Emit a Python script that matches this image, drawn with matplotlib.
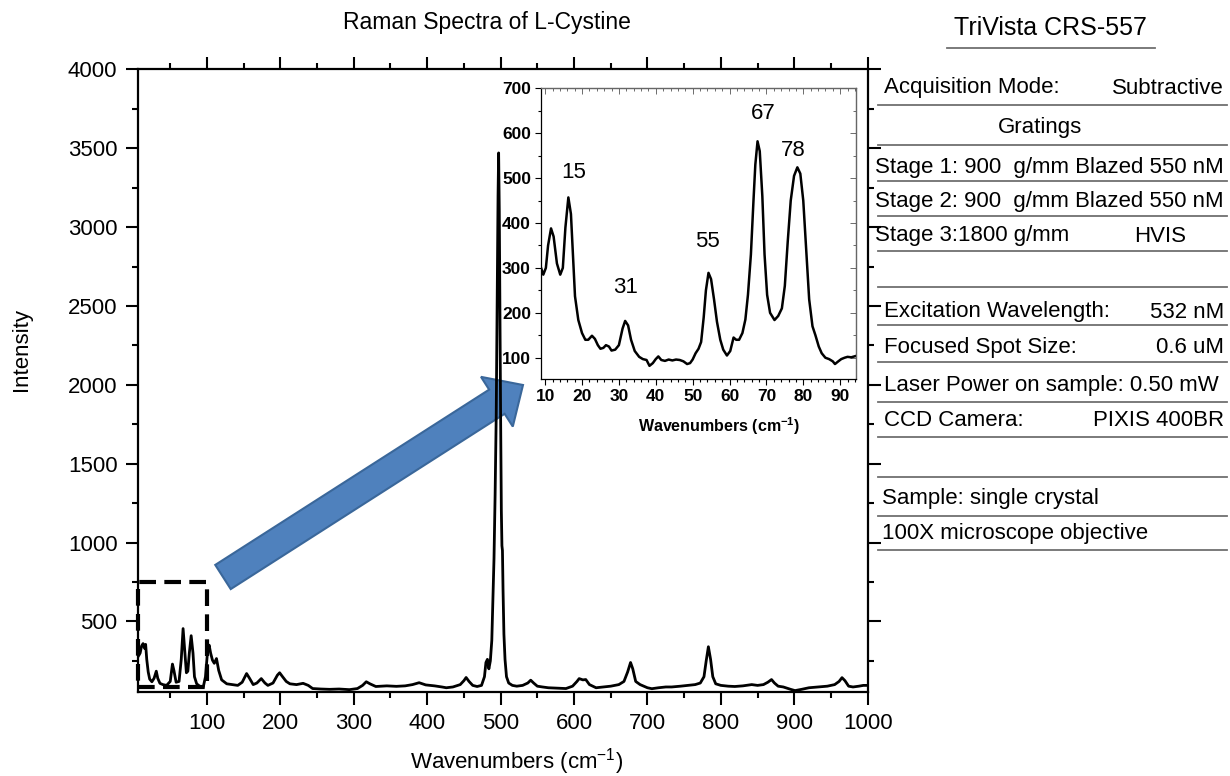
import numpy as np
import matplotlib.pyplot as plt
import matplotlib.transforms as mtransforms
from matplotlib.patches import FancyArrow, Rectangle
from matplotlib.lines import Line2D
from matplotlib.ticker import MultipleLocator

plt.rcParams['font.family'] = ['Liberation Sans', 'DejaVu Sans']
plt.rcParams['mathtext.fontset'] = 'custom'
plt.rcParams['mathtext.rm'] = 'Liberation Sans'
plt.rcParams['mathtext.bf'] = 'Liberation Sans:bold'

# full spectrum
wn = [6.5, 9, 11, 13, 15, 16.5, 18, 20, 22, 25, 28, 31, 33, 36, 40, 45, 50, 53, 55, 58,
      62, 65, 67.5, 70, 72, 74, 76, 78.5, 81, 83, 86, 90, 95, 98, 101, 103, 105, 107.5, 110, 113,
      116, 120, 127, 135, 142, 148, 154, 158, 163, 168, 174, 179, 183, 190, 196, 199, 203, 208, 213, 222,
      231, 238, 244, 255, 267, 280, 294, 305, 312, 317, 322, 330, 345, 358, 370, 380, 389, 398, 410, 420,
      426, 435, 445, 450, 453, 457, 462, 468, 474, 478, 480, 482, 484, 486, 488, 489.5, 491, 492.5, 494, 495.5,
      496.5, 497.3, 498.2, 499, 500, 501, 501.8, 502.5, 503.3, 504.5, 506, 508, 511, 516, 522, 530, 537, 541, 545, 550,
      557, 565, 575, 589, 598, 604, 607, 612, 616, 621, 630, 640, 650, 661, 668, 673, 677, 680, 684, 690,
      700, 706, 715, 725, 733, 745, 755, 765, 772, 777, 780, 783, 786, 789, 793, 800, 810, 819, 830, 842,
      850, 858, 864, 869, 873, 878, 885, 895, 901, 910, 920, 932, 945, 955, 961, 965, 969, 974, 980, 988,
      994, 1000]
intensity = [280, 300, 345, 360, 330, 355, 260, 180, 135, 118, 140, 185, 140, 108, 100, 95, 120, 230, 190, 115,
             120, 260, 455, 300, 175, 185, 300, 410, 300, 150, 105, 90, 85, 150, 320, 350, 300, 255, 235, 265,
             190, 130, 105, 100, 95, 115, 170, 140, 100, 110, 138, 110, 95, 110, 160, 175, 150, 120, 105, 100,
             108, 95, 75, 72, 70, 72, 68, 75, 95, 118, 105, 88, 92, 89, 92, 100, 112, 98, 92, 85,
             80, 85, 100, 125, 145, 120, 95, 88, 95, 150, 240, 260, 200, 250, 380, 650, 900, 1300, 1800, 2600,
             3200, 3470, 3100, 2500, 1800, 1200, 980, 950, 700, 420, 260, 150, 110, 95, 90, 95, 110, 128, 110, 90,
             85, 80, 78, 75, 90, 120, 138, 130, 132, 100, 80, 85, 90, 100, 120, 180, 240, 200, 120, 100,
             80, 74, 80, 85, 85, 90, 95, 100, 110, 150, 250, 340, 260, 150, 105, 95, 90, 88, 92, 100,
             95, 100, 115, 132, 110, 90, 85, 70, 62, 70, 80, 85, 90, 100, 120, 144, 125, 90, 85, 90,
             95, 95]

# low-frequency zoom (inset)
wn_low = [8.9, 9.5, 10.2, 10.8, 11.6, 12.3, 13.2, 14.1, 14.8, 15.5, 16.3, 17.0, 17.6, 18.1, 19.0, 20.0,
          20.9, 21.7, 22.7, 23.5, 24.3, 25.0, 25.8, 26.5, 27.3, 28.0, 29.0, 30.0, 31.0, 31.7, 32.5, 33.3,
          34.3, 35.5, 36.5, 37.5, 38.3, 39.2, 40.0, 40.7, 41.5, 42.5, 43.5, 44.5, 45.5, 46.5, 47.5, 48.5,
          49.3, 50.0, 50.8, 51.6, 52.3, 53.0, 53.6, 54.3, 55.0, 55.8, 56.6, 57.5, 58.3, 59.3, 60.2, 61.1,
          61.8, 62.6, 63.5, 64.3, 65.0, 65.8, 66.5, 67.0, 67.6, 68.2, 68.9, 69.5, 70.2, 71.0, 72.2, 73.2,
          74.2, 75.0, 75.8, 76.6, 77.5, 78.4, 79.2, 80.0, 80.8, 81.6, 82.5, 83.3, 84.2, 85.0, 86.0, 87.0,
          88.0, 88.6, 89.5, 90.3, 91.2, 92.0, 93.0, 94.3]
int_low = [300, 285, 300, 350, 388, 370, 310, 285, 300, 390, 457, 420, 320, 237, 184, 155,
           140, 140, 149, 142, 128, 120, 122, 128, 125, 116, 118, 128, 165, 182, 172, 140,
           115, 102, 97, 95, 82, 88, 97, 103, 95, 93, 96, 94, 96, 95, 92, 86,
           88, 96, 110, 120, 135, 190, 250, 289, 275, 230, 180, 140, 118, 105, 115, 145,
           140, 140, 155, 185, 240, 330, 450, 530, 582, 560, 460, 330, 240, 200, 184, 193,
           210, 260, 360, 450, 505, 524, 510, 450, 340, 230, 170, 150, 125, 110, 100, 97,
           92, 86, 92, 97, 100, 102, 101, 104]

peak_labels = ['15', '31', '55', '67', '78']
peak_label_pos = [(17.7, 513), (31.7, 256), (53.9, 359), (69.2, 644), (77.4, 562)]

rows_split = [("Acquisition Mode:", "Subtractive", 88),
              ("Excitation Wavelength:", "532 nM", 312),
              ("Focused Spot Size:", "0.6 uM", 348),
              ("CCD Camera:", "PIXIS 400BR", 420)]
rows_left = [("Stage 1: 900  g/mm Blazed 550 nM", 875, 167),
             ("Stage 2: 900  g/mm Blazed 550 nM", 875, 201),
             ("Stage 3:1800 g/mm", 875, 236),
             ("Laser Power on sample: 0.50 mW", 884, 385),
             ("Sample: single crystal", 882, 498),
             ("100X microscope objective", 882, 533)]
row_lines = [105, 145, 181, 216, 251, 287, 325, 362, 402, 437, 477, 516, 550]

W, H = 1230, 776
fig = plt.figure(figsize=(W / 100, H / 100), dpi=100)
px = mtransforms.Affine2D().scale(1 / W, -1 / H).translate(0, 1) + fig.transFigure

# main axes
ax = fig.add_axes([138.3 / W, 1 - 691.7 / H, (867.7 - 138.3) / W, (691.7 - 69.3) / H])
ax.plot(wn, intensity, color='black', lw=2, zorder=3)
ax.set_xlim(6.5, 1000)
ax.set_ylim(55, 4000)
ax.xaxis.set_major_locator(MultipleLocator(100))
ax.xaxis.set_minor_locator(MultipleLocator(50))
ax.yaxis.set_major_locator(MultipleLocator(500))
ax.yaxis.set_minor_locator(MultipleLocator(250))
ax.tick_params(which='both', direction='out', top=True, right=True, width=1.5,
               labelsize=16, pad=6)
ax.tick_params(which='major', length=9)
ax.tick_params(which='minor', length=4.5)
for s in ax.spines.values():
    s.set_linewidth(1.6)

# dashed box around the zoomed region
ax.add_patch(Rectangle((6.5, 82), 93.5, 670, fill=False, ec='black', lw=3,
                       ls=(0, (4, 2)), zorder=2, clip_on=False))

# blue arrow pointing to the inset
ax.add_patch(FancyArrow(223, 577, 300, -192, width=28.7, head_width=59, head_length=31,
                        length_includes_head=True, transform=px, fc='#4F81BD',
                        ec='#3A679A', lw=1.5, zorder=2))

fig.text(486.5 / W, 1 - 22 / H, 'Raman Spectra of L-Cystine', ha='center', va='center', fontsize=16.5)
fig.text(517 / W, 1 - 762 / H, r'Wavenumbers (cm$^{-1}$)', ha='center', va='center', fontsize=16)
fig.text(22 / W, 1 - 350 / H, 'Intensity', ha='center', va='center', rotation=90, fontsize=16)

# inset
ax2 = fig.add_axes([540.7 / W, 1 - 379.3 / H, 315.3 / W, 291 / H], zorder=5)
ax2.plot(wn_low, int_low, color='black', lw=1.8)
ax2.set_xlim(8.8, 94.3)
ax2.set_ylim(52, 700)
ax2.xaxis.set_major_locator(MultipleLocator(10))
ax2.xaxis.set_minor_locator(MultipleLocator(2))
ax2.yaxis.set_major_locator(MultipleLocator(100))
ax2.yaxis.set_minor_locator(MultipleLocator(50))
ax2.tick_params(which='both', direction='out', width=0.8, labelsize=12.5, pad=3)
ax2.tick_params(which='major', length=4)
ax2.tick_params(which='minor', length=2)
for lab in ax2.get_xticklabels() + ax2.get_yticklabels():
    lab.set_fontweight('bold')
sx = ax2.secondary_xaxis('top')
sx.xaxis.set_major_locator(MultipleLocator(10))
sx.xaxis.set_minor_locator(MultipleLocator(2))
sx.tick_params(which='both', direction='in', labeltop=False, width=0.6, color='#555555')
sx.tick_params(which='major', length=4)
sx.tick_params(which='minor', length=2)
sy = ax2.secondary_yaxis('right')
sy.yaxis.set_major_locator(MultipleLocator(100))
sy.yaxis.set_minor_locator(MultipleLocator(50))
sy.tick_params(which='both', direction='in', labelright=False, width=0.6, color='#555555')
sy.tick_params(which='major', length=4)
sy.tick_params(which='minor', length=2)
for s in ax2.spines.values():
    s.set_linewidth(0.9)
ax2.spines['top'].set_color('#666666')
ax2.spines['right'].set_color('#666666')
ax2.set_xlabel(r'Wavenumbers (cm$^{\mathbf{-1}}$)', fontsize=11.5, fontweight='bold')
ax2.xaxis.set_label_coords((719 - 540.7) / 315.3, -0.125)
for lab, (x, y) in zip(peak_labels, peak_label_pos):
    ax2.text(x, y, lab, ha='center', va='center', fontsize=16)

# instrument table on the right
fig.text(1050 / W, 1 - 28 / H, 'TriVista CRS-557', ha='center', va='center', fontsize=18)
fig.add_artist(Line2D([947, 1155], [48, 48], transform=px, color='#707070', lw=1.3))
for y in row_lines:
    fig.add_artist(Line2D([878, 1227], [y, y], transform=px, color='#707070', lw=1.3))
for left, right, y in rows_split:
    fig.text(884 / W, 1 - y / H, left, ha='left', va='center', fontsize=16)
    fig.text(1224 / W, 1 - y / H, right, ha='right', va='center', fontsize=16)
for txt, x, y in rows_left:
    fig.text(x / W, 1 - y / H, txt, ha='left', va='center', fontsize=16)
fig.text(1040 / W, 1 - 127 / H, 'Gratings', ha='center', va='center', fontsize=16)
fig.text(1160 / W, 1 - 236 / H, 'HVIS', ha='center', va='center', fontsize=16)

fig.savefig('out.png', dpi=100)
